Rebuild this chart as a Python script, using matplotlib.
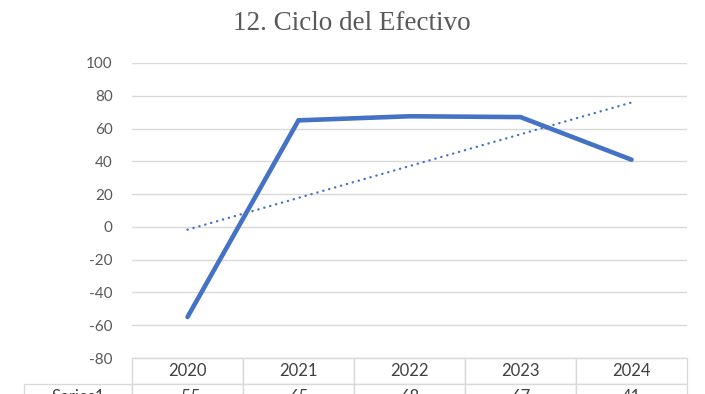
import matplotlib
matplotlib.use("Agg")
import matplotlib.pyplot as plt
import numpy as np

plt.rcParams["axes.unicode_minus"] = False

title = "12. Ciclo del Efectivo"
years = ["2020", "2021", "2022", "2023", "2024"]
series_name = "Series1"
values = [-55, 65, 67.5, 67, 41]

fig = plt.figure(figsize=(7.05, 3.94), dpi=100)
W, H = 705, 394
ax_left, ax_right, ax_top, ax_bottom = 132, 687, 63, 358
ax = fig.add_axes([ax_left / W, (H - ax_bottom) / H,
                   (ax_right - ax_left) / W, (ax_bottom - ax_top) / H])

x = np.arange(len(years))
blue = "#4472C4"
ax.plot(x, values, color=blue, lw=3.3, solid_capstyle="round",
        solid_joinstyle="miter", zorder=3)

coef = np.polyfit(x, values, 1)
trend = np.polyval(coef, x)
ax.plot(x, trend, color=blue, lw=1.7, linestyle=(0, (0.1, 2.5)),
        dash_capstyle="round", zorder=2)

ax.set_xlim(-0.5, len(years) - 0.5)
ax.set_ylim(-80, 100)
ax.set_yticks(np.arange(-80, 101, 20))
ax.set_xticks([])
ax.yaxis.grid(True, color="#d9d9d9", lw=1.0)
ax.set_axisbelow(True)
for s in ax.spines.values():
    s.set_visible(False)
ax.tick_params(axis="y", length=0, pad=14, labelsize=11, labelcolor="#595959")
for lab in ax.get_yticklabels():
    lab.set_fontfamily("Lato")

fig.text(352 / W, 1 - 24 / H, title, ha="center", va="center",
         fontsize=19.5, color="#595959", family="Liberation Serif")

# data table below the axes
tbl_left = 24
col0_w = ax_left - tbl_left
col_w = (ax_right - ax_left) / len(years)
total_w = ax_right - tbl_left
row_h = 26
fmt_vals = [f"{v:.0f}" for v in values]
cell_text = [[series_name] + fmt_vals]
col_labels = [""] + years
widths = [col0_w / total_w] + [col_w / total_w] * len(years)
axw = ax_right - ax_left
axh = ax_bottom - ax_top
tbl = ax.table(cellText=cell_text, colLabels=col_labels, colWidths=widths,
               cellLoc="center",
               bbox=[(tbl_left - ax_left) / axw, -2 * row_h / axh,
                     total_w / axw, 2 * row_h / axh])
tbl.auto_set_font_size(False)
for (r, c), cell in tbl.get_celld().items():
    cell.set_edgecolor("#d9d9d9")
    cell.set_linewidth(1.0)
    cell.get_text().set_fontsize(12)
    cell.get_text().set_color("#404040")
    cell.get_text().set_fontfamily("Lato")
    if r == 0 and c == 0:
        cell.visible_edges = ""

fig.savefig("out.png", dpi=100)
